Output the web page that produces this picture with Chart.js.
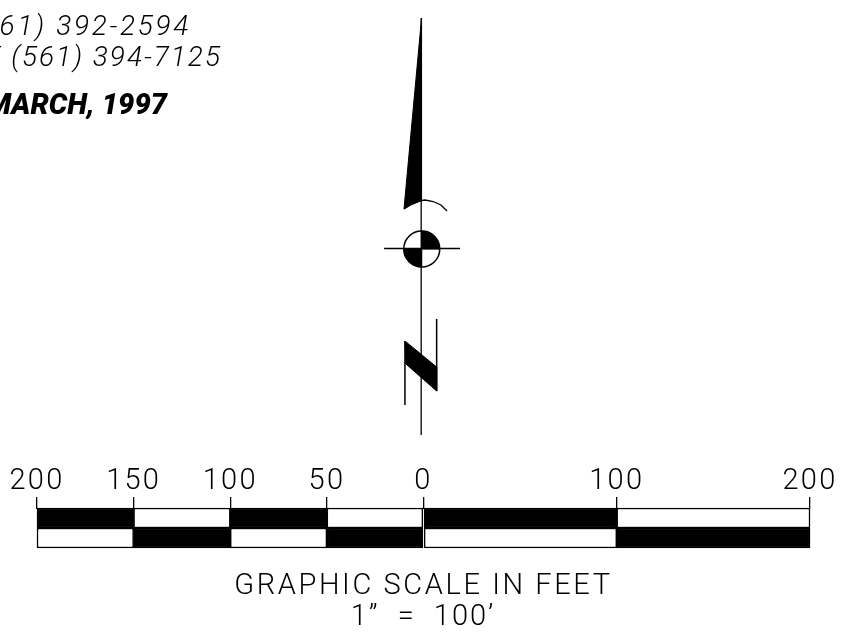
<!DOCTYPE html>
<html><head><meta charset="utf-8">
<style>html,body{margin:0;padding:0;background:#fff}#w{width:865px;height:642px;position:relative;overflow:hidden}</style>
<script src="https://cdn.jsdelivr.net/npm/chart.js@4"></script>
</head><body><div id="w"><canvas id="c" width="865" height="642"></canvas></div>
<script>
// scale bar: x in feet, y in drawing units
const tickValues = [-200,-150,-100,-50,0,100,200];
const upperRow = 518, lowerRow = 538;
const blackSpansUpper = [[-200,-150],[-100,-50],[0,100]];
const whiteSpansUpper = [[-150,-100],[-50,0],[100,200]];
const blackSpansLower = [[-150,-100],[-50,0],[100,200]];
const whiteSpansLower = [[-200,-150],[-100,-50],[0,100]];
// north arrow outline points, [feet, drawing units]
const needle = [[-1,18],[-10.1,209],[-6.5,205],[-1,200.5],[-1,18]];
const staff = [[-1.2,18],[-1.2,435]];
const crossbar = [[-20.4,248.5],[18.9,248.5]];
const arcLine = [[-10.1,209],[-6.5,204],[-1,200.5],[0.8,200],[5,201.5],[9,205],[12.2,211]];
const compassCentre = [[-0.9,249]];
const wedgeA = [[-0.9,249],[-0.9,231],[2.66,232.4],[5.68,236.3],[7.7,242.1],[8.4,249],[-0.9,249]];
const wedgeB = [[-0.9,249],[-10.2,249],[-9.5,255.9],[-7.48,261.7],[-4.46,265.6],[-0.9,267],[-0.9,249]];
const northLeft = [[-9.6,341],[-9.6,405]];
const northRight = [[6.8,319],[6.8,391]];
const northDiag = [[-9.6,341],[6.8,367],[6.8,391],[-9.1,364],[-9.6,341]];
const pts = a => a.map(p => ({x:p[0], y:p[1]}));
const spanPts = (a, row) => a.map(s => ({x:s, y:row}));
const textLines = [
  {t:"(561) 392-2594", x:191, y:35, f:"italic 300 28px Roboto", ls:"2.7px"},
  {t:"FAX (561) 394-7125", x:222, y:66, f:"italic 300 28px Roboto", ls:"2px"},
  {t:"MARCH, 1997", x:167, y:114, f:"italic 900 29px Roboto", ls:"0px"},
  {t:"GRAPHIC SCALE IN FEET", x:423.5, y:594, f:"300 29px Roboto", ls:"2.6px", c:1},
  {t:"1\u201D  =  100\u2019", x:423, y:625, f:"300 29px Roboto", ls:"2px", c:1}
];
const line = (data, w) => ({type:'scatter', data:pts(data), showLine:true, borderColor:'#000', borderWidth:w, pointRadius:0, fill:false, tension:0});
const poly = data => ({type:'scatter', data:pts(data), showLine:true, borderColor:'#000', backgroundColor:'#000', borderWidth:1, pointRadius:0, fill:'shape', tension:0});
const bar = (data, bg) => ({type:'bar', indexAxis:'y', data, grouped:false, barThickness:20, backgroundColor:bg, borderColor:'#000', borderWidth:1.5, borderSkipped:false, xAxisID:'x', yAxisID:'y'});
const drawnText = {id:'drawnText',
 beforeDraw(ch){ ch.ctx.letterSpacing='2.2px'; },
 afterDraw(ch){
  const g = ch.ctx; g.save(); g.fillStyle='#000'; g.textBaseline='alphabetic';
  for (const l of textLines){ g.font=l.f; g.letterSpacing=l.ls; g.textAlign=l.c?'center':'right'; g.fillText(l.t,l.x,l.y); }
  g.restore();
}};
new Chart(document.getElementById('c'), {
  type:'scatter',
  data:{datasets:[
    bar(spanPts(blackSpansUpper,upperRow),'#000'),
    bar(spanPts(whiteSpansUpper,upperRow),'#fff'),
    bar(spanPts(blackSpansLower,lowerRow),'#000'),
    bar(spanPts(whiteSpansLower,lowerRow),'#fff'),
    poly(needle), line(staff,1.3), line(crossbar,1.3), line(arcLine,1.3),
    poly(wedgeA), poly(wedgeB),
    {type:'scatter', data:pts(compassCentre), pointRadius:18, pointBackgroundColor:'transparent', pointBorderColor:'#000', pointBorderWidth:1.5},
    line(northLeft,1.5), line(northRight,1.5), poly(northDiag)
  ]},
  options:{
    responsive:false, animation:false, events:[],
    layout:{padding:0, autoPadding:false},
    plugins:{legend:{display:false}, tooltip:{enabled:false}},
    scales:{
      x:{type:'linear', min:-219.15, max:228.46, position:{y:497},
         afterBuildTicks(s){ s.ticks = tickValues.map(v=>({value:v})); },
         afterFit(s){ s.height=0; s.paddingLeft=s.paddingRight=s.paddingTop=s.paddingBottom=0; },
         border:{display:false},
         grid:{drawOnChartArea:false, drawTicks:true, tickLength:12, color:'#000', lineWidth:1.3},
         ticks:{autoSkip:false, maxRotation:0, padding:-45, color:'#000', font:{family:'Roboto', size:29, weight:300}, callback:v=>String(Math.abs(v))}},
      y:{type:'linear', min:0, max:642, reverse:true, display:false, offset:false}
    }
  },
  plugins:[drawnText]
});
</script></body></html>
